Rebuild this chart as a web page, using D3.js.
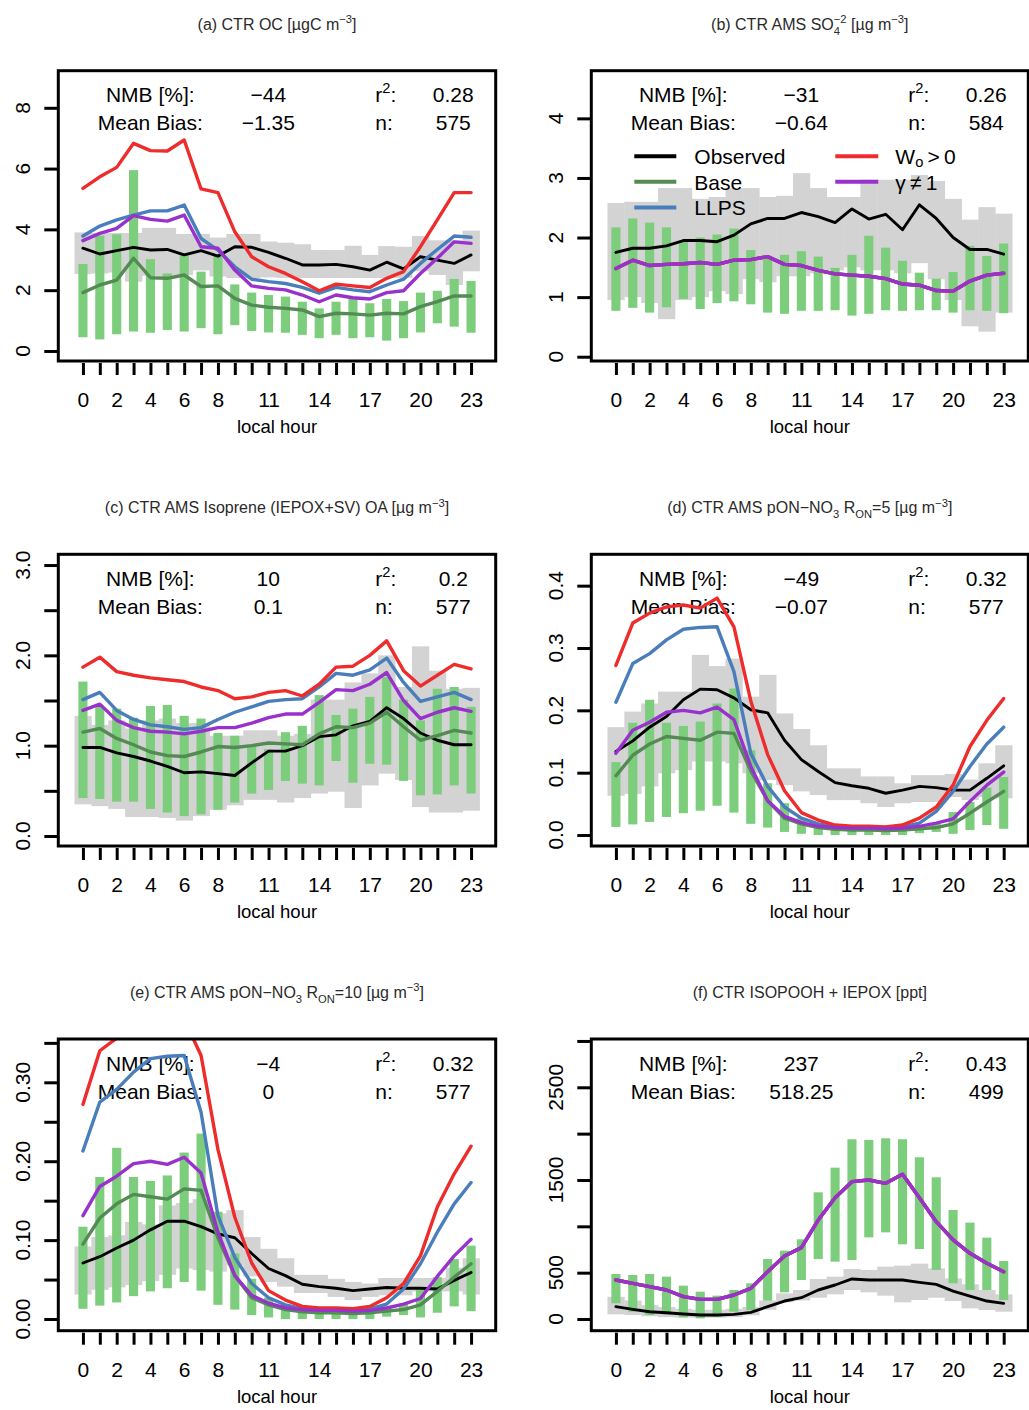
<!DOCTYPE html>
<html>
<head>
<meta charset="utf-8">
<script src="https://cdn.jsdelivr.net/npm/d3@7/dist/d3.min.js"></script>
<style>
  body { margin: 0; background: #ffffff; }
  svg { display: block; }
</style>
</head>
<body>
<script>
// ---------------------------------------------------------------
// Diurnal cycles (local hour) of observed vs. modelled quantities
// ---------------------------------------------------------------
const hours = [0,1,2,3,4,5,6,7,8,9,10,11,12,13,14,15,16,17,18,19,20,21,22,23];
const hourLabels = [0,2,4,6,8,11,14,17,20,23];

// (a) OC [µgC m-3]
const ocObs      = [3.38,3.19,3.30,3.41,3.32,3.34,3.16,3.30,3.12,3.43,3.41,3.24,3.05,2.83,2.83,2.85,2.77,2.66,2.92,2.70,3.10,2.99,2.88,3.16];
const ocObsHigh  = [3.90,3.88,3.88,3.88,4.05,4.05,3.85,3.85,3.73,3.85,3.85,3.60,3.56,3.51,3.32,3.32,3.46,3.16,3.45,3.43,3.78,3.64,3.64,3.96];
const ocObsLow   = [2.53,2.55,2.58,2.28,2.47,2.45,2.50,2.65,2.45,2.40,2.40,2.42,2.40,2.40,2.40,2.40,2.40,2.40,2.40,2.40,2.62,2.50,2.17,2.62];
const ocBase     = [1.92,2.17,2.33,3.05,2.41,2.39,2.50,2.12,2.14,1.73,1.51,1.44,1.40,1.35,1.13,1.24,1.22,1.18,1.24,1.22,1.46,1.62,1.81,1.81];
const ocLLPS     = [3.78,4.11,4.31,4.47,4.61,4.61,4.80,3.70,3.32,2.77,2.36,2.28,2.22,2.09,1.90,2.09,2.01,1.95,2.17,2.36,2.88,3.34,3.78,3.74];
const ocWo       = [5.35,5.73,6.04,6.83,6.59,6.58,6.94,5.33,5.21,3.92,3.10,2.77,2.55,2.28,1.98,2.20,2.14,2.09,2.39,2.61,3.43,4.31,5.21,5.21];
const ocGamma    = [3.63,3.87,4.03,4.45,4.33,4.27,4.47,3.43,3.38,2.66,2.14,2.06,2.01,1.84,1.62,1.84,1.75,1.71,1.92,1.98,2.55,3.05,3.59,3.54];
const ocModHigh  = [2.86,3.79,3.84,5.95,3.02,2.55,3.16,2.61,3.16,2.19,1.92,1.84,1.79,1.62,1.40,1.62,1.75,1.57,1.71,1.64,1.92,1.98,2.37,2.30];
const ocModLow   = [0.45,0.38,0.55,0.64,0.60,0.69,0.64,0.75,0.55,0.85,0.66,0.61,0.60,0.53,0.42,0.53,0.42,0.45,0.34,0.42,0.61,0.91,0.80,0.60];

// (b) AMS sulfate [µg m-3]; all model runs coincide
const so4Obs     = [1.75,1.82,1.82,1.86,1.95,1.95,1.93,2.04,2.23,2.32,2.32,2.42,2.35,2.25,2.48,2.31,2.39,2.13,2.55,2.32,2.00,1.80,1.80,1.72];
const so4ObsHigh = [2.58,2.60,2.60,2.83,2.83,2.65,2.68,2.83,2.83,2.68,2.70,3.08,2.83,2.68,2.68,2.97,2.97,2.97,3.05,2.95,2.65,2.30,2.51,2.40];
const so4ObsLow  = [0.95,1.00,0.90,0.63,0.95,1.00,1.10,1.05,1.30,1.25,1.35,1.35,1.40,1.45,1.50,1.45,1.45,1.40,1.57,1.30,0.95,0.51,0.42,0.74];
const so4Model   = [1.48,1.62,1.53,1.55,1.56,1.58,1.55,1.62,1.63,1.68,1.55,1.53,1.45,1.39,1.37,1.35,1.31,1.22,1.20,1.11,1.10,1.27,1.37,1.40];
const so4ModHigh = [2.17,2.32,2.25,2.17,1.93,2.00,2.05,2.15,1.79,1.68,1.71,1.77,1.68,1.49,1.71,2.03,1.83,1.61,1.41,1.31,1.42,1.86,1.69,1.90];
const so4ModLow  = [0.77,0.82,0.74,0.83,0.97,0.80,0.90,0.93,0.88,0.74,0.72,0.77,0.77,0.78,0.69,0.72,0.78,0.77,0.78,0.78,0.74,0.78,0.77,0.73];

// (c) AMS isoprene (IEPOX+SV) OA [µg m-3]
const isoObs     = [0.98,0.98,0.92,0.88,0.83,0.77,0.70,0.71,0.69,0.67,0.81,0.94,0.94,1.00,1.10,1.12,1.22,1.27,1.42,1.30,1.14,1.06,1.01,1.01];
const isoObsHigh = [1.33,1.23,1.28,1.19,1.28,1.30,1.25,1.25,1.11,1.11,1.17,1.17,1.11,1.13,1.51,1.51,1.70,1.80,2.00,1.65,2.10,1.83,1.63,1.64];
const isoObsLow  = [0.35,0.33,0.30,0.21,0.21,0.20,0.17,0.22,0.29,0.34,0.40,0.40,0.37,0.42,0.47,0.49,0.31,0.56,0.69,0.62,0.32,0.26,0.26,0.28];
const isoBase    = [1.15,1.19,1.08,1.01,0.93,0.89,0.88,0.93,0.99,0.98,1.00,1.03,1.02,1.01,1.13,1.21,1.20,1.25,1.37,1.21,1.06,1.11,1.17,1.14];
const isoLLPS    = [1.51,1.59,1.39,1.29,1.23,1.21,1.18,1.20,1.29,1.37,1.43,1.49,1.51,1.52,1.65,1.80,1.78,1.84,1.97,1.70,1.49,1.54,1.59,1.51];
const isoWo      = [1.87,1.98,1.82,1.78,1.75,1.73,1.71,1.65,1.61,1.52,1.54,1.59,1.61,1.55,1.68,1.87,1.88,2.00,2.16,1.83,1.66,1.78,1.90,1.85];
const isoGamma   = [1.39,1.46,1.28,1.20,1.16,1.15,1.13,1.16,1.20,1.20,1.25,1.31,1.35,1.35,1.48,1.62,1.61,1.68,1.81,1.50,1.30,1.37,1.42,1.38];
const isoModHigh = [1.71,1.43,1.41,1.31,1.44,1.45,1.33,1.30,1.14,1.11,1.01,0.96,1.15,1.22,1.56,1.34,1.41,1.54,1.76,1.51,1.28,1.63,1.65,1.43];
const isoModLow  = [0.42,0.41,0.38,0.38,0.30,0.26,0.22,0.24,0.29,0.37,0.47,0.51,0.61,0.58,0.56,0.83,0.59,0.80,0.79,0.61,0.45,0.46,0.56,0.47];

// (d, e) pON-NO3: modelled cycles shared by both R_ON assumptions
const ponBase    = [0.095,0.128,0.146,0.158,0.155,0.152,0.165,0.163,0.103,0.055,0.027,0.018,0.012,0.009,0.008,0.008,0.007,0.008,0.010,0.012,0.018,0.035,0.053,0.070];
const ponLLPS    = [0.213,0.275,0.291,0.313,0.330,0.333,0.334,0.262,0.131,0.078,0.045,0.027,0.018,0.013,0.012,0.012,0.012,0.013,0.019,0.038,0.070,0.110,0.146,0.173];
const ponWo      = [0.272,0.340,0.356,0.366,0.369,0.364,0.380,0.334,0.215,0.129,0.071,0.036,0.024,0.016,0.014,0.014,0.013,0.016,0.027,0.045,0.080,0.142,0.184,0.219];
const ponGamma   = [0.131,0.168,0.181,0.197,0.200,0.196,0.205,0.185,0.110,0.055,0.030,0.020,0.014,0.012,0.011,0.011,0.010,0.011,0.014,0.019,0.026,0.054,0.080,0.101];
const ponModHigh = [0.117,0.180,0.217,0.180,0.175,0.182,0.211,0.235,0.136,0.083,0.051,0.027,0.019,0.016,0.014,0.013,0.013,0.013,0.016,0.019,0.037,0.053,0.076,0.093];
const ponModLow  = [0.013,0.017,0.021,0.029,0.035,0.039,0.047,0.036,0.018,0.012,0.005,0.002,0.000,0.000,0.000,0.000,0.000,0.000,0.003,0.005,0.002,0.008,0.016,0.010];
// observed, R_ON = 5
const pon5Obs     = [0.134,0.151,0.173,0.190,0.217,0.234,0.233,0.220,0.201,0.196,0.152,0.121,0.102,0.084,0.079,0.075,0.067,0.072,0.078,0.076,0.072,0.072,0.091,0.111];
const pon5ObsHigh = [0.173,0.198,0.211,0.230,0.230,0.289,0.271,0.283,0.222,0.257,0.195,0.170,0.144,0.107,0.107,0.094,0.094,0.083,0.096,0.096,0.098,0.089,0.115,0.144];
const pon5ObsLow  = [0.063,0.066,0.078,0.099,0.104,0.118,0.118,0.115,0.099,0.088,0.080,0.070,0.064,0.056,0.056,0.051,0.045,0.051,0.053,0.053,0.061,0.056,0.061,0.059];
// observed, R_ON = 10
const pon10Obs     = [0.071,0.079,0.090,0.100,0.113,0.124,0.124,0.117,0.108,0.103,0.083,0.064,0.055,0.044,0.041,0.039,0.036,0.038,0.040,0.039,0.039,0.038,0.049,0.059];
const pon10ObsHigh = [0.092,0.104,0.106,0.123,0.120,0.144,0.147,0.152,0.134,0.138,0.104,0.089,0.077,0.056,0.056,0.051,0.047,0.045,0.052,0.052,0.052,0.052,0.065,0.077];
const pon10ObsLow  = [0.031,0.037,0.040,0.043,0.048,0.056,0.064,0.062,0.060,0.068,0.054,0.047,0.041,0.033,0.033,0.028,0.024,0.028,0.030,0.030,0.035,0.035,0.035,0.031];

// (f) ISOPOOH + IEPOX [ppt]; all model runs coincide
const isopObs     = [133,104,79,68,54,43,43,50,72,133,194,230,313,367,432,421,421,421,396,374,302,248,194,169];
const isopObsHigh = [240,200,150,130,110,100,100,110,130,200,277,313,432,457,540,529,565,576,597,547,439,374,313,266];
const isopObsLow  = [50,43,30,20,15,14,14,20,40,100,180,200,230,266,313,288,252,180,205,230,194,115,97,79];
const isopModel   = [421,385,349,313,241,212,212,259,331,511,680,770,1068,1309,1482,1500,1464,1561,1309,1050,853,709,601,511];
const isopModHigh = [486,475,486,457,360,295,252,313,385,647,737,860,1367,1633,1939,1932,1950,1939,1745,1529,1176,1040,878,626];
const isopModLow  = [170,79,43,50,18,7,25,79,97,198,288,421,647,619,637,881,935,806,755,529,385,313,313,205];

// Summary statistics per panel (a-f)
const nmbText  = ['\u221244', '\u221231', '10', '\u221249', '\u22124', '237'];
const biasText = ['\u22121.35', '\u22120.64', '0.1', '\u22120.07', '0', '518.25'];
const r2Text   = ['0.28', '0.26', '0.2', '0.32', '0.32', '0.43'];
const nText    = ['575', '584', '577', '577', '577', '499'];

// ---------------------------------------------------------------
const FONT = '"Liberation Sans", Arial, Helvetica, sans-serif';
const COL = {
  obs: '#000000', base: '#548B54', llps: '#4A7EBB', wo: '#EE2C2C', gamma: '#9932CC',
  modRange: '#7CCD7C', obsRange: '#D3D3D3'
};

const panels = [
  { id: 'a', box: [58.3, 70.7, 495.7, 361], yDomain: [-0.33, 9.22],
    yTicks: [0,2,4,6,8], yLabels: [0,2,4,6,8], fmt: d3.format('d'),
    title: [['(a) CTR OC [\u00b5gC m'], ['\u22123','sup'], [']']],
    obs: ocObs, obsHigh: ocObsHigh, obsLow: ocObsLow, modHigh: ocModHigh, modLow: ocModLow,
    lines: { base: ocBase, llps: ocLLPS, wo: ocWo, gamma: ocGamma } },
  { id: 'b', box: [591.3, 70.7, 1028.3, 361], yDomain: [-0.072, 4.80],
    yTicks: [0,1,2,3,4], yLabels: [0,1,2,3,4], fmt: d3.format('d'),
    title: [['(b) CTR AMS SO'], ['4','sub'], ['\u22122','stack'], [' [\u00b5g m'], ['\u22123','sup'], [']']],
    obs: so4Obs, obsHigh: so4ObsHigh, obsLow: so4ObsLow, modHigh: so4ModHigh, modLow: so4ModLow,
    lines: { base: so4Model, llps: so4Model, wo: so4Model, gamma: so4Model }, legend: true },
  { id: 'c', box: [58.3, 554.3, 495.7, 846], yDomain: [-0.111, 3.119],
    yTicks: [0,0.5,1,1.5,2,2.5,3], yLabels: [0,1,2,3], fmt: d3.format('.1f'),
    title: [['(c) CTR AMS Isoprene (IEPOX+SV) OA [\u00b5g m'], ['\u22123','sup'], [']']],
    obs: isoObs, obsHigh: isoObsHigh, obsLow: isoObsLow, modHigh: isoModHigh, modLow: isoModLow,
    lines: { base: isoBase, llps: isoLLPS, wo: isoWo, gamma: isoGamma } },
  { id: 'd', box: [591.3, 554.3, 1028.3, 846], yDomain: [-0.0176, 0.4503],
    yTicks: [0,0.1,0.2,0.3,0.4], yLabels: [0,0.1,0.2,0.3,0.4], fmt: d3.format('.1f'),
    title: [['(d) CTR AMS pON\u2212NO'], ['3','sub'], [' R'], ['ON','sub'], ['=5 [\u00b5g m'], ['\u22123','sup'], [']']],
    obs: pon5Obs, obsHigh: pon5ObsHigh, obsLow: pon5ObsLow, modHigh: ponModHigh, modLow: ponModLow,
    lines: { base: ponBase, llps: ponLLPS, wo: ponWo, gamma: ponGamma } },
  { id: 'e', box: [58.3, 1039, 495.7, 1330.7], yDomain: [-0.0148, 0.3549],
    yTicks: [0,0.05,0.1,0.15,0.2,0.25,0.3,0.35], yLabels: [0,0.1,0.2,0.3], fmt: d3.format('.2f'),
    title: [['(e) CTR AMS pON\u2212NO'], ['3','sub'], [' R'], ['ON','sub'], ['=10 [\u00b5g m'], ['\u22123','sup'], [']']],
    obs: pon10Obs, obsHigh: pon10ObsHigh, obsLow: pon10ObsLow, modHigh: ponModHigh, modLow: ponModLow,
    lines: { base: ponBase, llps: ponLLPS, wo: ponWo, gamma: ponGamma } },
  { id: 'f', box: [591.3, 1039, 1028.3, 1330.7], yDomain: [-126, 3021],
    yTicks: [0,500,1000,1500,2000,2500,3000], yLabels: [0,500,1500,2500], fmt: d3.format('d'),
    title: [['(f) CTR ISOPOOH + IEPOX [ppt]']],
    obs: isopObs, obsHigh: isopObsHigh, obsLow: isopObsLow, modHigh: isopModHigh, modLow: isopModLow,
    lines: { base: isopModel, llps: isopModel, wo: isopModel, gamma: isopModel } }
];

const svg = d3.select('body').append('svg')
  .attr('width', 1029).attr('height', 1410)
  .attr('font-family', FONT);

// Text with sub-/superscripts built from tspans; dy is tracked cumulatively.
function richText(textSel, parts, size, subShift = 0.32) {
  let cur = 0;
  parts.forEach(([t, kind]) => {
    let off = 0, fs = size, dx = 0;
    if (kind === 'sub') { off = size * subShift; fs = size * 0.7; }
    if (kind === 'sup') { off = -size * 0.42; fs = size * 0.7; }
    if (kind === 'stack') { off = -size * 0.42; fs = size * 0.7; dx = -size * 0.7 * 0.556; }
    const ts = textSel.append('tspan').text(t).attr('dy', off - cur);
    if (fs !== size) ts.attr('font-size', fs);
    if (dx) ts.attr('dx', dx);
    cur = off;
  });
}

panels.forEach((p, i) => {
  const [L, T, R, B] = p.box;
  const x = d3.scaleLinear().domain([-1.46, 24.46]).range([L, R]);
  const y = d3.scaleLinear().domain(p.yDomain).range([B, T]);
  const g = svg.append('g').attr('class', 'panel-' + p.id);

  g.append('clipPath').attr('id', 'clip-' + p.id)
    .append('rect').attr('x', L).attr('y', T).attr('width', R - L).attr('height', B - T);

  const bars = g.append('g').attr('clip-path', `url(#clip-${p.id})`);
  // observed spread: full-hour wide grey blocks
  bars.selectAll('rect.obs-range').data(hours).join('rect')
    .attr('class', 'obs-range')
    .attr('x', h => x(h - 0.5))
    .attr('width', h => x(h + 0.5) - x(h - 0.5) + 0.4)
    .attr('y', (h, k) => y(p.obsHigh[k]))
    .attr('height', (h, k) => y(p.obsLow[k]) - y(p.obsHigh[k]))
    .attr('fill', COL.obsRange);
  // model spread: narrow green bars
  bars.selectAll('rect.mod-range').data(hours).join('rect')
    .attr('class', 'mod-range')
    .attr('x', h => x(h - 0.27))
    .attr('width', h => x(h + 0.27) - x(h - 0.27))
    .attr('y', (h, k) => y(p.modHigh[k]))
    .attr('height', (h, k) => y(p.modLow[k]) - y(p.modHigh[k]))
    .attr('fill', COL.modRange);

  // statistics block
  const st = g.append('g').attr('font-size', 21).attr('fill', '#000');
  const r1 = T + 31.5, r2 = T + 59.5;
  st.append('text').attr('x', L + 92).attr('y', r1).attr('text-anchor', 'middle').text('NMB [%]:');
  st.append('text').attr('x', L + 92).attr('y', r2).attr('text-anchor', 'middle').text('Mean Bias:');
  st.append('text').attr('x', L + 210).attr('y', r1).attr('text-anchor', 'middle').text(nmbText[i]);
  st.append('text').attr('x', L + 210).attr('y', r2).attr('text-anchor', 'middle').text(biasText[i]);
  richText(st.append('text').attr('x', L + 317).attr('y', r1), [['r'], ['2', 'sup'], [':']], 21);
  st.append('text').attr('x', L + 317).attr('y', r2).text('n:');
  st.append('text').attr('x', L + 395).attr('y', r1).attr('text-anchor', 'middle').text(r2Text[i]);
  st.append('text').attr('x', L + 395).attr('y', r2).attr('text-anchor', 'middle').text(nText[i]);

  // diurnal lines
  const line = d3.line().x((v, k) => x(hours[k])).y(v => y(v));
  const lg = g.append('g').attr('clip-path', `url(#clip-${p.id})`)
    .attr('fill', 'none').attr('stroke-linejoin', 'round').attr('stroke-linecap', 'round');
  lg.append('path').attr('d', line(p.obs)).attr('stroke', COL.obs).attr('stroke-width', 2.9);
  [['base', COL.base], ['llps', COL.llps], ['wo', COL.wo], ['gamma', COL.gamma]].forEach(([k, c]) => {
    lg.append('path').attr('d', line(p.lines[k])).attr('stroke', c).attr('stroke-width', 3.4);
  });

  // frame
  g.append('rect').attr('x', L).attr('y', T).attr('width', R - L).attr('height', B - T)
    .attr('fill', 'none').attr('stroke', '#000').attr('stroke-width', 3);

  // y axis
  const ya = g.append('g').attr('transform', `translate(${L - 1},0)`)
    .call(d3.axisLeft(y).tickValues(p.yTicks).tickSize(13).tickSizeOuter(0).tickFormat(''));
  ya.select('.domain').remove();
  ya.selectAll('.tick line').attr('stroke', '#000').attr('stroke-width', 3);
  g.append('g').selectAll('text').data(p.yLabels).join('text')
    .attr('transform', v => `translate(${L - 28},${y(v)}) rotate(-90)`)
    .attr('text-anchor', 'middle').attr('font-size', 21).attr('fill', '#000')
    .text(v => p.fmt(v));

  // x axis
  const xa = g.append('g').attr('transform', `translate(0,${B + 2})`)
    .call(d3.axisBottom(x).tickValues(hours).tickSize(12).tickSizeOuter(0).tickPadding(17)
      .tickFormat(h => hourLabels.includes(h) ? String(h) : ''));
  xa.select('.domain').remove();
  xa.attr('font-size', 21).attr('font-family', FONT);
  xa.selectAll('.tick line').attr('stroke', '#000').attr('stroke-width', 3);
  xa.selectAll('.tick text').attr('fill', '#000');
  g.append('text').attr('x', (L + R) / 2).attr('y', B + 72).attr('text-anchor', 'middle')
    .attr('font-size', 18.5).attr('fill', '#000').text('local hour');

  // title
  richText(g.append('text').attr('x', (L + R) / 2).attr('y', T - 41)
    .attr('text-anchor', 'middle').attr('font-size', 16).attr('fill', '#2a2a2a'), p.title, 16);

  // legend
  if (p.legend) {
    const items = [
      { c: COL.obs,   col: 0, row: 0, label: [['Observed']] },
      { c: COL.base,  col: 0, row: 1, label: [['Base']] },
      { c: COL.llps,  col: 0, row: 2, label: [['LLPS']] },
      { c: COL.wo,    col: 1, row: 0, label: [['W'], ['o', 'sub'], ['\u2009>\u20090']] },
      { c: COL.gamma, col: 1, row: 1, label: [['\u03b3\u2009\u2260\u20091']] }
    ];
    const leg = g.append('g').attr('font-size', 21).attr('fill', '#000');
    items.forEach(it => {
      const lx0 = L + (it.col ? 244 : 43), lx1 = L + (it.col ? 287 : 85);
      const ly = T + 85.5 + it.row * 25.6;
      leg.append('line').attr('x1', lx0).attr('x2', lx1).attr('y1', ly).attr('y2', ly)
        .attr('stroke', it.c).attr('stroke-width', 4);
      richText(leg.append('text').attr('x', L + (it.col ? 304 : 103)).attr('y', ly + 8), it.label, 21, 0.15);
    });
  }
});
</script>
</body>
</html>
